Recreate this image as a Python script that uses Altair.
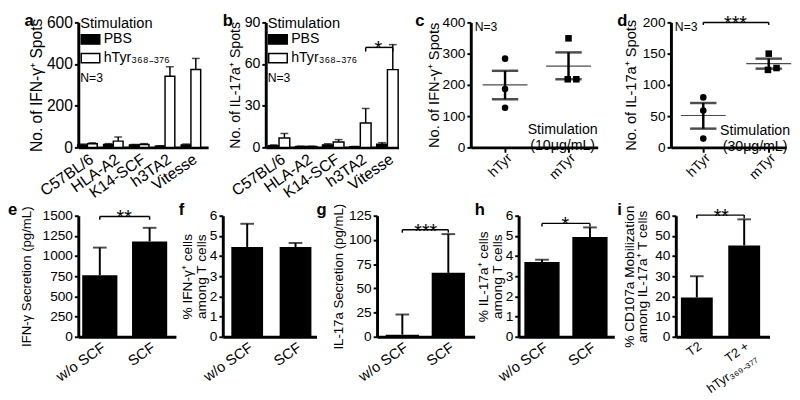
import altair as alt
import pandas as pd

FONT = "Liberation Sans"

# ---------------- data ----------------
cell_lines = ["C57BL/6", "HLA-A2", "K14-SCF", "h3TA2", "Vitesse"]
stim_groups = ["PBS", "hTyr₃₆₈₋₃₇₆"]

a_pbs_mean = [12, 14, 11, 6, 12]
a_pbs_top = [16, 18, 14, 8, 16]
a_htyr_mean = [17, 30, 14, 341, 374]
a_htyr_top = [22, 50, 18, 387, 427]

b_pbs_mean = [1.2, 0.6, 1.8, 0.4, 2.2]
b_pbs_top = [1.8, 0.9, 2.6, 0.7, 3.4]
b_htyr_mean = [6.8, 0.6, 3.8, 17.5, 56]
b_htyr_top = [10, 0.9, 5.6, 28, 74]

peptides = ["hTyr", "mTyr"]
c_htyr_pts = [284, 187, 127]
c_mtyr_pts = [349, 218, 218]
c_mean = [200, 260]
c_sem_lo = [154, 218]
c_sem_hi = [245, 304]

d_htyr_pts = [80, 59, 14]
d_mtyr_pts = [150, 124, 127]
d_mean = [51, 134]
d_sem_lo = [30, 126]
d_sem_hi = [71, 142]

point_nudge = [0.0, -0.1, 1.0]

scf_groups = ["w/o SCF", "SCF"]
e_mean = [762, 1182]
e_top = [1105, 1350]
f_mean = [4.45, 4.45]
f_top = [5.6, 4.65]
g_mean = [2.2, 66]
g_top = [23, 106]
h_mean = [3.7, 4.94]
h_top = [3.82, 5.42]
t2_groups = ["T2", "T2 +|hTyr₃₆₉₋₃₇₇"]
i_mean = [19.5, 45.3]
i_top = [30, 58.2]

TOP_H = 128
BOT_H = 124


# ---------------- helpers ----------------
def yenc(field, ymax, vals, title, tpad, lsize=14, tsize=15, lh=15):
    return alt.Y(
        f"{field}:Q",
        scale=alt.Scale(domain=[0, ymax], nice=False, zero=True),
        axis=alt.Axis(values=vals, format="d", title=title, titlePadding=tpad, labelFontSize=lsize,
                      titleFontSize=tsize, titleLineHeight=lh),
    )


def letter(ch, dx, dy):
    return alt.Chart(pd.DataFrame({"t": [ch]})).mark_text(
        font=FONT, fontSize=17, fontWeight="bold", align="left", baseline="top", color="black"
    ).encode(text="t:N", x=alt.value(dx), y=alt.value(dy))


def note(txt, dx, dy, size=12.5, align="left"):
    return alt.Chart(pd.DataFrame({"t": [txt]})).mark_text(
        font=FONT, fontSize=size, align=align, baseline="top", color="black"
    ).encode(text="t:N", x=alt.value(dx), y=alt.value(dy))


def xlabels(X, cats, size, angle):
    # rotated category labels under the x axis
    return alt.Chart(pd.DataFrame({"g": cats})).mark_text(
        font=FONT, fontSize=size, angle=angle, align="right", baseline="top", color="black"
    ).encode(x=X, y=alt.value(TOP_H + 4), text="g:N")


def sig(X, Yf, g0, g1, yv, drop, stars, dx_mid, offs=0):
    line = alt.Chart(pd.DataFrame({"g": [g0], "g2": [g1], "v": [yv]})).mark_rule(
        color="black", strokeWidth=1.5, xOffset=offs, x2Offset=offs
    ).encode(x=X, x2=alt.X2(field="g2"), y=Yf("v"))
    ends = alt.Chart(pd.DataFrame({"g": [g0, g1], "v": [yv, yv], "v2": [yv - drop, yv - drop]})).mark_rule(
        color="black", strokeWidth=1.5, xOffset=offs
    ).encode(x=X, y=Yf("v"), y2=alt.Y2(field="v2"))
    star = alt.Chart(pd.DataFrame({"g": [g0], "v": [yv], "s": [stars]})).mark_text(
        font=FONT, fontSize=20, color="black", dx=dx_mid + offs, dy=8, baseline="alphabetic", align="center"
    ).encode(x=X, y=Yf("v"), text="s:N")
    return [line, ends, star]


def grouped_panel(ch, pbs_mean, pbs_top, htyr_mean, htyr_top, ymax, vals, title, tpad, width,
                  po, al, bw, lsize, tsize, ldx, star=None):
    groups = [(stim_groups[0], pbs_mean, pbs_top, -bw / 2), (stim_groups[1], htyr_mean, htyr_top, bw / 2)]
    X = alt.X("g:N", scale=alt.Scale(domain=cell_lines, paddingInner=0.5, paddingOuter=po, align=al),
              axis=alt.Axis(title=None, labels=False, ticks=False))
    F = alt.Fill("stim:N", scale=alt.Scale(domain=stim_groups, range=["black", "white"]),
                 legend=alt.Legend(title="Stimulation", orient="none", legendX=2, legendY=-6, padding=0,
                                   titleFontSize=15, titleFontWeight="normal", titleFont=FONT,
                                   titleColor="black", titlePadding=-2, labelFontSize=14.5,
                                   labelFont=FONT, labelColor="black", labelOffset=3,
                                   symbolType="M-1,-0.5H1V0.5H-1Z", symbolSize=361,
                                   symbolStrokeColor="black", symbolStrokeWidth=1.5,
                                   rowPadding=0))

    def Yf(f):
        return yenc(f, ymax, vals, title, tpad, lsize, tsize)

    layers = []
    for stim, means, tops, off in groups:
        df = pd.DataFrame({"g": cell_lines, "stim": stim, "mean": means, "top": tops})
        base = alt.Chart(df)
        layers.append(base.mark_bar(stroke="black", strokeWidth=1.5, width=bw, xOffset=off).encode(
            x=X, y=Yf("mean"), fill=F))
        layers.append(base.mark_rule(color="black", strokeWidth=1.5, xOffset=off).encode(
            x=X, y=Yf("mean"), y2=alt.Y2(field="top")))
        layers.append(base.mark_tick(color="black", thickness=1.5, size=8, xOffset=off).encode(
            x=X, y=Yf("top")))
    layers += [xlabels(X, cell_lines, 16, 325), note("N=3", 2, 51), letter(ch, ldx, -9)]
    if star:
        layers += sig(X, Yf, *star)
    return alt.layer(*layers).properties(width=width, height=TOP_H)


def scatter_panel(ch, h_pts, m_pts, mean, lo, hi, ymax, vals, title, tpad, width, pad, al, stim_txt,
                  stim_y, stim_dx, ldx, star=None):
    rows = [{"g": peptides[0], "v": v, "n": 0.0} for v in h_pts]
    rows += [{"g": peptides[1], "v": v, "n": n} for v, n in zip(m_pts, point_nudge)]
    pts = pd.DataFrame(rows)
    summ = pd.DataFrame({"g": peptides, "mean": mean, "lo": lo, "hi": hi})
    X = alt.X("g:N", scale=alt.Scale(type="point", domain=peptides, padding=pad, align=al),
              axis=alt.Axis(title=None, labels=False, ticks=True, tickSize=5, tickWidth=2))

    def Yf(f):
        return yenc(f, ymax, vals, title, tpad, 14, 15)

    layers = []
    for n in sorted(set(pts["n"])):
        sub = pts[pts["n"] == n]
        layers.append(alt.Chart(sub).mark_point(filled=True, opacity=1, color="black", size=45,
                                                xOffset=n * 8).encode(
            x=X, y=Yf("v"),
            shape=alt.Shape("g:N", scale=alt.Scale(domain=peptides, range=["circle", "square"]), legend=None),
        ))
    sb = alt.Chart(summ)
    layers.append(sb.mark_tick(color="black", thickness=1.2, size=46).encode(x=X, y=Yf("mean")))
    layers.append(sb.mark_rule(color="black", strokeWidth=2.5).encode(x=X, y=Yf("lo"), y2=alt.Y2(field="hi")))
    layers.append(sb.mark_tick(color="black", thickness=2.5, size=27).encode(x=X, y=Yf("lo")))
    layers.append(sb.mark_tick(color="black", thickness=2.5, size=27).encode(x=X, y=Yf("hi")))
    layers.append(alt.Chart(pd.DataFrame({"g": [peptides[1]], "v": [stim_y]})).mark_text(
        font=FONT, fontSize=14.5, color="black", align="center", baseline="middle", lineHeight=16,
        text=["Stimulation", stim_txt], dx=stim_dx
    ).encode(x=X, y=Yf("v")))
    layers += [xlabels(X, peptides, 14, 315), note("N=3", 4, -1), letter(ch, ldx, -9)]
    if star:
        layers += sig(X, Yf, *star)
    return alt.layer(*layers).properties(width=width, height=TOP_H)


def bar_panel(ch, groups, mean, top, ymax, vals, title, tpad, width, pi, po, al, ldx, star=None,
              label_expr=None, tsize=15, lh=15, lsize=15):
    df = pd.DataFrame({"g": groups, "mean": mean, "top": top})
    axkw = dict(title=None, labelAngle=-35, ticks=False, labelFontSize=lsize, labelPadding=3)
    if label_expr:
        axkw["labelExpr"] = label_expr
    X = alt.X("g:N", scale=alt.Scale(domain=groups, paddingInner=pi, paddingOuter=po, align=al),
              axis=alt.Axis(**axkw))

    def Yf(f):
        return yenc(f, ymax, vals, title, tpad, 14, tsize, lh)

    base = alt.Chart(df)
    bars = base.mark_bar(color="black").encode(x=X, y=Yf("mean"))
    err = base.mark_rule(color="black", strokeWidth=2).encode(x=X, y=Yf("mean"), y2=alt.Y2(field="top"))
    cap = base.mark_tick(color="black", thickness=2, size=14).encode(x=X, y=Yf("top"))
    layers = [bars, err, cap, letter(ch, ldx, -14)]
    if star:
        layers += sig(X, Yf, *star)
    return alt.layer(*layers).properties(width=width, height=BOT_H)


def spacer(w, h):
    return alt.Chart(pd.DataFrame({"v": [0]})).mark_point(opacity=0).encode(
        x=alt.value(0), y=alt.value(0)).properties(width=w, height=h)


# ---------------- panels ----------------
pa = grouped_panel("a", a_pbs_mean, a_pbs_top, a_htyr_mean, a_htyr_top, 600, [0, 200, 400, 600],
                   "No. of IFN-γ⁺ Spots", 2, 133, 0.26, 0.2, 10, 16, 16, -55)
pb = grouped_panel("b", b_pbs_mean, b_pbs_top, b_htyr_mean, b_htyr_top, 90, [0, 30, 60, 90],
                   "No. of IL-17a⁺ Spots", 2, 136, 0.2, 0.6, 11, 14.5, 14.5, -44,
                   star=("h3TA2", "Vitesse", 72, 3, "*", 13, 5.5))
pc = scatter_panel("c", c_htyr_pts, c_mtyr_pts, c_mean, c_sem_lo, c_sem_hi, 400, [0, 100, 200, 300, 400],
                   "No. of IFN-γ⁺ Spots", 1, 130, 0.5, 0.54, "(10μg/mL)", 55, -6, -57)
pd_ = scatter_panel("d", d_htyr_pts, d_mtyr_pts, d_mean, d_sem_lo, d_sem_hi, 200, [0, 50, 100, 150, 200],
                    "No. of IL-17a⁺ Spots", 4, 118, 0.38, 0.65, "(30μg/mL)", 26, -14, -55,
                    star=("hTyr", "mTyr", 200, 4, "***", 33))

pe = bar_panel("e", scf_groups, e_mean, e_top, 1500, [0, 250, 500, 750, 1000, 1250, 1500],
               "IFN-γ Secretion (pg/mL)", 9, 100, 0.294, 0.127, 0.31, -72,
               star=("w/o SCF", "SCF", 1490, 40, "**", 25), tsize=13.5)
pf = bar_panel("f", scf_groups, f_mean, f_top, 6, [0, 1, 2, 3, 4, 5, 6],
               ["% IFN-γ⁺ cells", "among T cells"], 1, 96, 0.343, 0.141, 0.625, -45, tsize=14, lh=14)
pg = bar_panel("g", scf_groups, g_mean, g_top, 125, [0, 25, 50, 75, 100, 125],
               "IL-17a Secretion (pg/mL)", 3, 100, 0.277, 0.2, 0.47, -62,
               star=("w/o SCF", "SCF", 110.5, 3, "***", 24), tsize=13.5)
ph = bar_panel("h", scf_groups, h_mean, h_top, 6, [0, 1, 2, 3, 4, 5, 6],
               ["% IL-17a⁺ cells", "among T cells"], 1, 98, 0.265, 0.13, 0.46, -45,
               star=("w/o SCF", "SCF", 5.62, 0.15, "*", 24), tsize=14, lh=14)
pi_ = bar_panel("i", t2_groups, i_mean, i_top, 60, [0, 10, 20, 30, 40, 50, 60],
                ["% CD107a Mobilization", "among IL-17a⁺ T cells"], 5, 96, 0.327, 0.153, 0.35, -60,
                star=("T2", t2_groups[1], 60.3, 1.5, "**", 25),
                label_expr="split(datum.label, '|')", tsize=14, lh=14, lsize=13)

row1 = alt.hconcat(pa, spacer(59, TOP_H), pb, spacer(74, TOP_H), pc, spacer(75, TOP_H), pd_,
                   spacing=0, bounds="flush").resolve_scale(fill="independent", shape="independent")
row2 = alt.hconcat(pe, spacer(48, BOT_H), pf, spacer(62, BOT_H), pg, spacer(45, BOT_H), ph,
                   spacer(63, BOT_H), pi_, spacing=0, bounds="flush")

chart = alt.vconcat(row1, row2, spacing=0).resolve_scale(
    fill="independent", shape="independent"
).properties(padding=0).configure(font=FONT, background="white").configure_view(
    strokeWidth=0
).configure_axis(
    domainColor="black", domainWidth=3, tickColor="black", tickWidth=2, tickSize=4,
    labelColor="black", labelFont=FONT, labelPadding=2, titleColor="black", titleFont=FONT,
    titleFontWeight="normal", grid=False
)

chart.save("out.html", embed_options={"renderer": "svg", "actions": False})
